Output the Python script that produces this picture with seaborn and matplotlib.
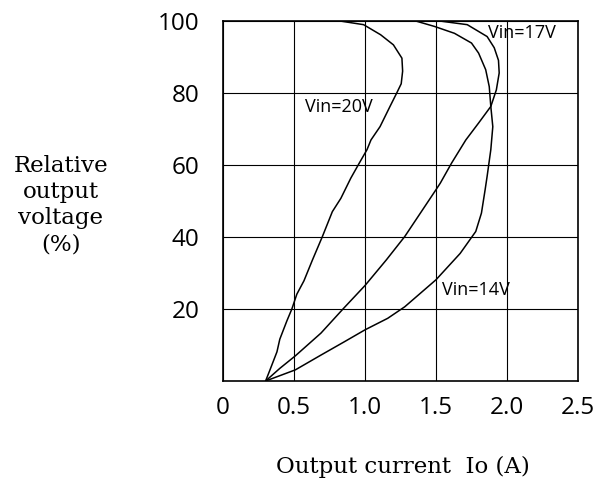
import numpy as np
import pandas as pd
import matplotlib
matplotlib.use("Agg")
import matplotlib.pyplot as plt
import seaborn as sns

# -------------------------------
# DATA
# -------------------------------
vin20_current = [0.30, 0.33, 0.38, 0.40, 0.45, 0.485, 0.52, 0.57, 0.63, 0.70, 0.77, 0.83,
                 0.90, 0.96, 1.014, 1.042, 1.106, 1.176, 1.223, 1.255, 1.265, 1.26,
                 1.20, 1.11, 0.99, 0.81]
vin20_voltage = [0, 3, 8.1, 11.6, 16.7, 20, 24.1, 27.8, 33.6, 40.1, 47, 50.7,
                 56.3, 60.5, 64.2, 66.9, 70.6, 76.2, 79.9, 82.5, 86.0, 89.6,
                 93.3, 96.1, 98.9, 100]

vin17_current = [0.30, 0.40, 0.51, 0.69, 0.85, 1.00, 1.15, 1.28, 1.39, 1.50, 1.53,
                 1.61, 1.71, 1.80, 1.886, 1.925, 1.945, 1.94, 1.91, 1.86, 1.72, 1.51]
vin17_voltage = [0, 3.5, 7.0, 13.3, 20.2, 26.5, 33.6, 40.1, 46.6, 53.1, 54.9,
                 60.5, 66.9, 71.6, 76.2, 80.8, 85.5, 89.0, 92.5, 95.6, 98.9, 100]

vin14_current = [0.30, 0.51, 0.69, 0.855, 1.00, 1.16, 1.28, 1.50, 1.67, 1.78, 1.82, 1.846,
                 1.86, 1.886, 1.90, 1.886, 1.875, 1.85, 1.80, 1.75, 1.63, 1.49, 1.35]
vin14_voltage = [0, 3.1, 7.2, 10.9, 14.2, 17.4, 20.6, 28.1, 35.4, 41.5, 46.6, 53.1,
                 56.8, 64.2, 70.6, 76.2, 81.7, 86.4, 91, 93.8, 96.5, 98.4, 100]

x_ticks = [0, 0.5, 1.0, 1.5, 2.0, 2.5]
x_tick_labels = ["0", "0.5", "1.0", "1.5", "2.0", "2.5"]
y_ticks = [20, 40, 60, 80, 100]
y_tick_labels = ["20", "40", "60", "80", "100"]

labels = {"Vin=20V": (0.577, 76), "Vin=17V": (1.866, 96.7), "Vin=14V": (1.542, 25.3)}

df = pd.concat([
    pd.DataFrame({"Io": vin20_current, "V": vin20_voltage, "vin": "20V"}),
    pd.DataFrame({"Io": vin17_current, "V": vin17_voltage, "vin": "17V"}),
    pd.DataFrame({"Io": vin14_current, "V": vin14_voltage, "vin": "14V"}),
], ignore_index=True)

# -------------------------------
# PLOT
# -------------------------------
sns.set_style("white")
plt.rcParams["font.family"] = ["Open Sans", "DejaVu Sans"]
plt.rcParams["text.color"] = "black"
plt.rcParams["xtick.color"] = "black"
plt.rcParams["ytick.color"] = "black"

fig = plt.figure(figsize=(5.96, 4.83), dpi=100)
ax = fig.add_axes([223 / 596, 1 - 381 / 483, 355 / 596, 360.3 / 483])

sns.lineplot(data=df, x="Io", y="V", hue="vin", palette=["black"] * 3,
             sort=False, estimator=None, legend=False, linewidth=1.1, ax=ax)

ax.set_xlim(0, 2.5)
ax.set_ylim(0, 100)
ax.set_xticks(x_ticks)
ax.set_xticklabels(x_tick_labels, fontsize=17.5)
ax.set_yticks(y_ticks)
ax.set_yticklabels(y_tick_labels, fontsize=17.5)
ax.tick_params(axis="x", length=0, pad=11)
ax.tick_params(axis="y", length=0, pad=17)
ax.grid(True, color="black", linewidth=0.8)
for s in ax.spines.values():
    s.set_color("black")
    s.set_linewidth(1.2)
ax.set_xlabel("")
ax.set_ylabel("")

for txt, (x, y) in labels.items():
    ax.text(x, y, txt, fontsize=13, ha="left", va="center")

fig.text(61 / 596, 1 - 205 / 483, "Relative\noutput\nvoltage\n(%)", family="DejaVu Serif",
         fontsize=16.5, ha="center", va="center", multialignment="center", linespacing=1.25)
fig.text(403 / 596, 1 - 467 / 483, "Output current  Io (A)", family="DejaVu Serif",
         fontsize=16.5, ha="center", va="center")

fig.savefig("out.png", dpi=100)
